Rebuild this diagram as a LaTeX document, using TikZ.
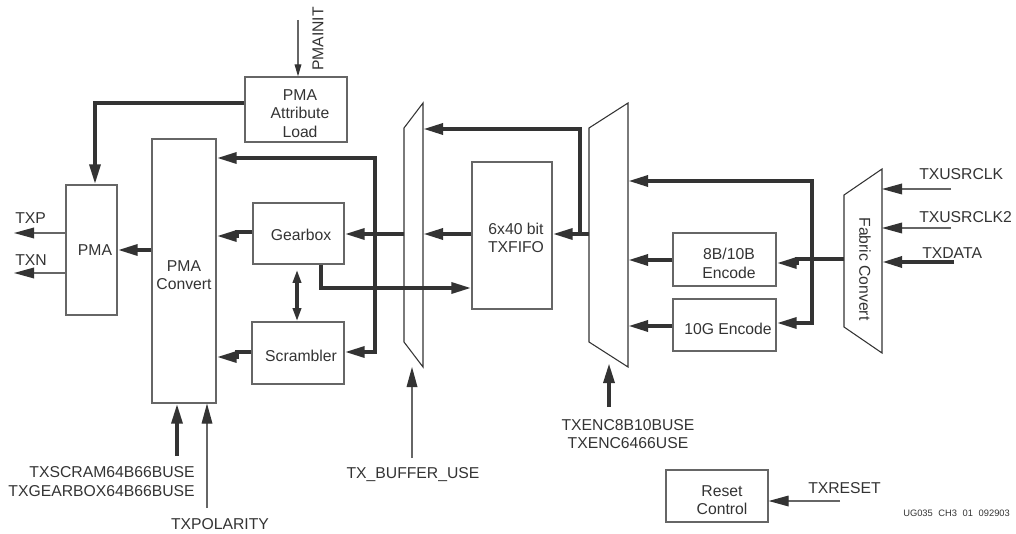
\documentclass[tikz,border=0pt]{standalone}
\usepackage{fontspec}
\setmainfont{Liberation Sans}
\usetikzlibrary{arrows.meta}
\definecolor{ink}{HTML}{333333}
\definecolor{edgec}{HTML}{666666}
\begin{document}
\begin{tikzpicture}[x=0.75pt,y=-0.75pt,
  every node/.style={font=\fontsize{11.8}{14}\selectfont, text=ink, inner sep=0pt},
  box/.style={draw=edgec, line width=0.9pt, rectangle},
  mux/.style={draw=ink, line width=0.8pt},
  bus/.style={draw=ink, line width=3pt},
  sig/.style={draw=edgec, line width=0.9pt},
  tip/.style={-{Triangle[length=15pt,width=8pt,color=ink]}},
  smalltip/.style={-{Triangle[length=9pt,width=5pt,color=ink]}},
  dbltip/.style={{Triangle[length=10pt,width=6pt]}-{Triangle[length=10pt,width=6pt]}},
  lbl/.style={align=center}
]
\useasboundingbox (0,0) rectangle (1016,534);

% boxes
\node[box, minimum width=76.5pt, minimum height=48.75pt] (attr) at (296,109.5) {};
\node[lbl] (attrT) at (300,113.5) {PMA\\Attribute\\Load};
\node[box, minimum width=38.25pt, minimum height=97.5pt] (pma) at (91.5,250) {};
\node (pmaT) at (95,250) {PMA};
\node[box, minimum width=48pt, minimum height=198pt] (conv) at (184,271) {};
\node[lbl] (convT) at (184,275) {PMA\\Convert};
\node[box, minimum width=68.25pt, minimum height=45.75pt] (gear) at (298.5,233.5) {};
\node (gearT) at (301,235) {Gearbox};
\node[box, minimum width=69pt, minimum height=46.5pt] (scr) at (298,353) {};
\node (scrT) at (301,356) {Scrambler};
\node[box, minimum width=60pt, minimum height=110.25pt] (fifo) at (512,235.5) {};
\node[lbl] (fifoT) at (516,238) {6x40 bit\\TXFIFO};
\node[box, minimum width=77.25pt, minimum height=39.75pt] (enc8) at (724.5,259.5) {};
\node[lbl] (enc8T) at (729,263.5) {8B/10B\\Encode};
\node[box, minimum width=77.25pt, minimum height=39pt] (enc10) at (724.5,325) {};
\node (enc10T) at (728,329) {10G Encode};
\node[box, minimum width=76.5pt, minimum height=39pt] (reset) at (717,496) {};
\node[lbl] (resetT) at (722,500) {Reset\\Control};

% muxes
\draw[mux] (404,128) coordinate (m1tl) -- (423,103) coordinate (m1tr) -- (423,367) coordinate (m1br) -- (404,342) coordinate (m1bl) -- cycle;
\draw[mux] (589,128) coordinate (m2tl) -- (628,103) coordinate (m2tr) -- (628,367) coordinate (m2br) -- (589,342) coordinate (m2bl) -- cycle;
\draw[mux] (844,195) coordinate (ftl) -- (882,169) coordinate (ftr) -- (882,353) coordinate (fbr) -- (844,327) coordinate (fbl) -- cycle;
\node[rotate=-90] (fabT) at (865,269) {Fabric Convert};

% junctions
\coordinate (j1) at (375,234);
\coordinate (j2) at (580,234);
\coordinate (j3) at (812,259);

% thick buses
\draw[bus,tip] (attr.west |- 0,103) -| (pma.north -| 95,0);
\draw[bus,tip] (m1tl |- 0,234) -- (gear.east |- 0,234);
\draw[bus,tip] (j1) |- (conv.east |- 0,158);
\draw[bus,tip] (j1) |- (scr.east |- 0,352);
\draw[bus,tip] (gear.west |- 0,232) -- ++(-15,0) -- ++(0,4) -- (conv.east |- 0,236);
\draw[bus,tip] (scr.west |- 0,352) -- ++(-14,0) -- ++(0,5) -- (conv.east |- 0,357);
\draw[bus,dbltip] (gear.south -| 297,0) ++(0,5) -- (scr.north -| 297,0);
\draw[bus,tip] (gear.south -| 321,0) |- (fifo.west |- 0,288);
\draw[bus,tip] (fifo.west |- 0,234) -- (m1tr |- 0,234);
\draw[bus,tip] (m2tl |- 0,234) -- (fifo.east |- 0,234);
\draw[bus,tip] (j2) |- (m1tr |- 0,129);
\draw[bus,tip] (ftl |- j3) -- (797,259) -- (797,263) -- (enc8.east |- 0,263);
\draw[bus,tip] (j3) |- (m2tr |- 0,181);
\draw[bus,tip] (j3) |- (enc10.east |- 0,323);
\draw[bus,tip] (enc8.west |- 0,260) -- (m2tr |- 0,260);
\draw[bus,tip] (enc10.west |- 0,326) -- (m2tr |- 0,326);
\draw[bus,tip] (conv.west |- 0,250) -- (pma.east |- 0,250);
\draw[bus,tip] (954,262) coordinate (txd) -- (ftr |- txd);
\draw[bus,tip] (609,407) coordinate (encsel) -- (609,363);
\draw[bus,tip] (177,456) coordinate (scrsel) -- (conv.south -| scrsel);

% thin signals
\draw[sig,tip] (pma.west |- 0,233) -- (14,233) coordinate (txp);
\draw[sig,tip] (pma.west |- 0,273) -- (14,273) coordinate (txn);
\draw[sig,smalltip] (298,20) coordinate (pmainit) -- (attr.north -| pmainit);
\draw[sig,tip] (951,189) coordinate (clk1) -- (ftr |- clk1);
\draw[sig,tip] (951,228) coordinate (clk2) -- (ftr |- clk2);
\draw[sig,tip] (412,458) coordinate (bufsel) -- (412,367);
\draw[sig,tip] (207,508) coordinate (pol) -- (conv.south -| pol);
\draw[sig,tip] (840,501) coordinate (rst) -- (reset.east |- rst);

% labels
\node[anchor=west] (lTXP) at (15,218) {TXP};
\node[anchor=west] (lTXN) at (15,260) {TXN};
\node[rotate=90] (lPMAINIT) at (318,39) {PMAINIT};
\node[anchor=west] (lclk1) at (919,174) {TXUSRCLK};
\node[anchor=west] (lclk2) at (919,217) {TXUSRCLK2};
\node[anchor=west] (ldata) at (922,253) {TXDATA};
\node[anchor=east, align=right] (lscr) at (195,481.5) {TXSCRAM64B66BUSE\\TXGEARBOX64B66BUSE};
\node (lpol) at (220,524) {TXPOLARITY};
\node (lbuf) at (413,475) {TX\_BUFFER\_USE};
\node[align=center] (lenc) at (628,434) {TXENC8B10BUSE\\TXENC6466USE};
\node[anchor=west] (lrst) at (808,488) {TXRESET};
\node[anchor=west, font=\fontsize{7}{8}\selectfont] (lug) at (903,513) {UG035\hspace{0.6em}CH3\hspace{0.6em}01\hspace{0.6em}092903};
\end{tikzpicture}
\end{document}
